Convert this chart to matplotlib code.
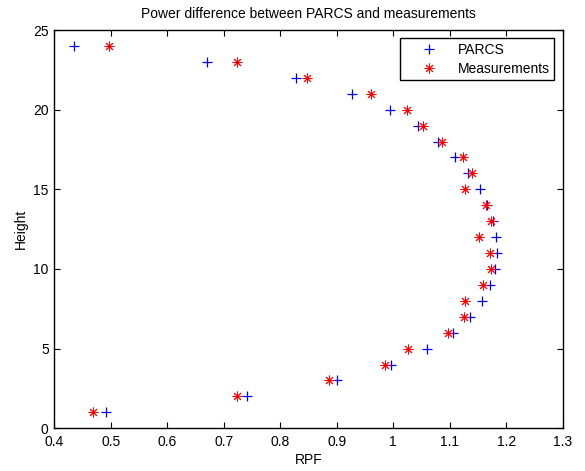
import matplotlib
matplotlib.use("Agg")
import matplotlib.pyplot as plt

# Data -----------------------------------------------------------------
height = [24, 23, 22, 21, 20, 19, 18, 17, 16, 15, 14, 13,
          12, 11, 10, 9, 8, 7, 6, 5, 4, 3, 2, 1]

rpf_parcs = [0.435, 0.671, 0.828, 0.927, 0.995, 1.043, 1.080, 1.109,
             1.133, 1.153, 1.166, 1.176, 1.182, 1.184, 1.181, 1.172,
             1.158, 1.136, 1.105, 1.060, 0.996, 0.900, 0.742, 0.491]

rpf_meas = [0.497, 0.723, 0.847, 0.961, 1.025, 1.053, 1.087, 1.123,
            1.140, 1.127, 1.164, 1.173, 1.152, 1.171, 1.173, 1.159,
            1.127, 1.126, 1.097, 1.026, 0.985, 0.886, 0.724, 0.469]

x_ticks = [0.4, 0.5, 0.6, 0.7, 0.8, 0.9, 1.0, 1.1, 1.2, 1.3]
x_labels = ["0.4", "0.5", "0.6", "0.7", "0.8", "0.9", "1", "1.1", "1.2", "1.3"]
y_ticks = [0, 5, 10, 15, 20, 25]

# Plotting --------------------------------------------------------------
plt.rcParams["font.family"] = ["Liberation Sans", "DejaVu Sans"]
fsize = 10

fig = plt.figure(figsize=(5.85, 4.71), dpi=100)
ax = fig.add_axes([0.0928, 0.0907, 0.8691, 0.8456])

ax.plot(rpf_parcs, height, linestyle="none", marker="+", color="blue",
        markersize=7, markeredgewidth=0.9, label="PARCS")
ax.plot(rpf_meas, height, linestyle="none", marker=(8, 2, 0), color="red",
        markersize=7, markeredgewidth=0.7, label="Measurements")

ax.set_xlim(0.4, 1.3)
ax.set_ylim(0, 25)
ax.set_xticks(x_ticks)
ax.set_xticklabels(x_labels, fontsize=fsize)
ax.set_yticks(y_ticks)
ax.tick_params(axis="y", labelsize=fsize, pad=4)
ax.tick_params(axis="x", pad=5)
ax.tick_params(direction="in", top=True, right=True, length=4, width=0.8)

for spine in ax.spines.values():
    spine.set_linewidth(1.0)

ax.set_xlabel("RPF", fontsize=fsize, labelpad=3)
ax.set_ylabel("Height", fontsize=fsize)
ax.set_title("Power difference between PARCS and measurements",
             fontsize=fsize, pad=9)

leg = ax.legend(loc="upper right", fontsize=fsize, fancybox=False,
                framealpha=1, edgecolor="black", borderaxespad=0.6,
                handlelength=3.6, handletextpad=0.3, borderpad=0.3,
                labelspacing=0.4)
leg.get_frame().set_linewidth(1.0)

fig.savefig("out.png", dpi=100)
